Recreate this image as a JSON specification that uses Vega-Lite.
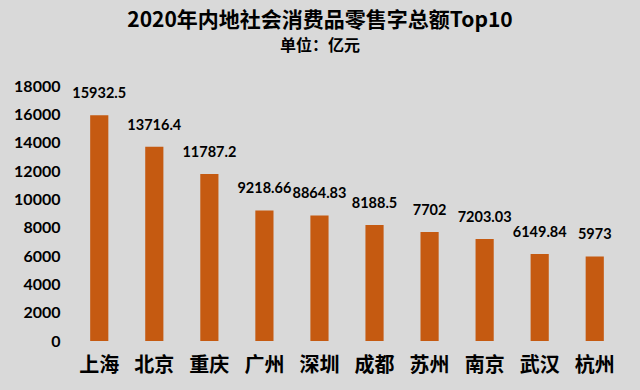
{
  "$schema": "https://vega.github.io/schema/vega-lite/v6.json",
  "autosize": {"type": "none"},
  "width": 550,
  "height": 255,
  "padding": {"left": 72, "top": 86, "right": 18, "bottom": 49},
  "background": "#d9d9d9",
  "title": {
    "text": "2020年内地社会消费品零售字总额Top10",
    "subtitle": "单位：亿元",
    "anchor": "middle",
    "dx": -27,
    "offset": 24,
    "font": "Noto Sans CJK SC",
    "fontSize": 21,
    "fontWeight": "bold",
    "color": "#000000",
    "subtitleFont": "Noto Sans CJK SC",
    "subtitleFontSize": 16,
    "subtitleFontWeight": "bold",
    "subtitleColor": "#000000",
    "subtitlePadding": 7
  },
  "data": {
    "values": [
      {"city": "上海", "value": 15932.5, "label": "15932.5"},
      {"city": "北京", "value": 13716.4, "label": "13716.4"},
      {"city": "重庆", "value": 11787.2, "label": "11787.2"},
      {"city": "广州", "value": 9218.66, "label": "9218.66"},
      {"city": "深圳", "value": 8864.83, "label": "8864.83"},
      {"city": "成都", "value": 8188.5, "label": "8188.5"},
      {"city": "苏州", "value": 7702, "label": "7702"},
      {"city": "南京", "value": 7203.03, "label": "7203.03"},
      {"city": "武汉", "value": 6149.84, "label": "6149.84"},
      {"city": "杭州", "value": 5973, "label": "5973"}
    ]
  },
  "encoding": {
    "x": {
      "field": "city",
      "type": "nominal",
      "sort": null,
      "scale": {"paddingInner": 0.67, "paddingOuter": 0.33},
      "axis": {
        "title": null,
        "labelAngle": 0,
        "labelFont": "Noto Sans CJK SC",
        "labelFontSize": 20,
        "labelFontWeight": "bold",
        "labelColor": "#000000",
        "labelPadding": 14,
        "ticks": false,
        "domain": false
      }
    },
    "y": {
      "field": "value",
      "type": "quantitative",
      "scale": {"domain": [0, 18000]},
      "axis": {
        "title": null,
        "values": [0, 2000, 4000, 6000, 8000, 10000, 12000, 14000, 16000, 18000],
        "format": "d",
        "labelFont": "Lato",
        "labelFontSize": 16,
        "labelFontWeight": "bold",
        "labelColor": "#000000",
        "labelPadding": 12,
        "ticks": false,
        "domain": false,
        "grid": false
      }
    }
  },
  "layer": [
    {"mark": {"type": "bar", "color": "#c55a11"}},
    {
      "mark": {
        "type": "text",
        "dy": -14,
        "font": "Lato",
        "fontSize": 14.5,
        "fontWeight": "bold",
        "color": "#000000",
        "baseline": "bottom"
      },
      "encoding": {"text": {"field": "label"}}
    }
  ],
  "config": {"view": {"stroke": null}}
}
